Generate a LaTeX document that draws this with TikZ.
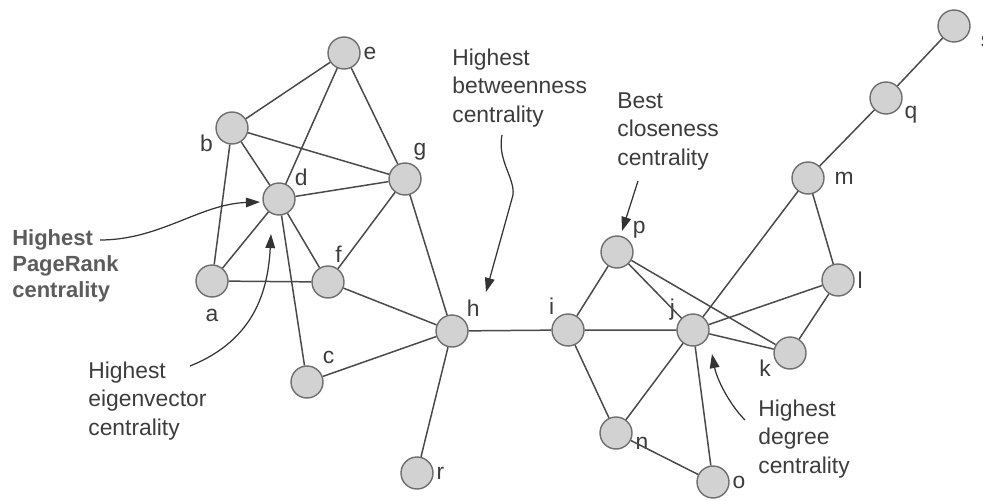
\documentclass[tikz,border=0pt]{standalone}
\usepackage{fontspec}
\setmainfont{Liberation Sans}
\usetikzlibrary{arrows.meta}
\definecolor{vfill}{HTML}{D2D2D2}
\definecolor{vline}{HTML}{6E6E6E}
\definecolor{eline}{HTML}{4A4A4A}
\definecolor{txtgray}{HTML}{3C3C3C}
\definecolor{prgray}{HTML}{5C5C5C}

\begin{document}
\begin{tikzpicture}[x=0.02cm, y=-0.02cm,
    vertex/.style={circle, draw=vline, fill=vfill, line width=0.8pt, minimum size=0.64cm, inner sep=0pt},
    every label/.style={text=txtgray, font=\fontsize{13}{15}\selectfont, inner sep=1.5pt},
    edge/.style={draw=eline, line width=0.85pt},
    note/.style={text=txtgray, align=left, inner sep=0pt, font=\fontsize{13}{16.2}\selectfont},
    pointer/.style={draw=black!80, line width=0.7pt, -{Triangle[length=8pt,width=5.5pt]}}]
        \useasboundingbox (0,0) rectangle (983,500);

        %%NODES
        % left cluster
        \node[vertex, label=0:e] (e) at (344,53) {};
        \node[vertex, label=195:b] (b) at (232,128) {};
        \node[vertex, label=40:d] (d) at (279,199) {};
        \node[vertex, label=70:g] (g) at (405,179) {};
        \node[vertex, label={[label distance=5pt]270:a}] (a) at (212,281) {};
        \node[vertex, label=75:f] (f) at (328,282) {};
        \node[vertex, label={[label distance=2pt]50:c}] (c) at (307,382) {};
        \node[vertex, label=45:h] (h) at (452,331) {};
        \node[vertex, label=0:r] (r) at (417,473) {};

        % right cluster
        \node[vertex, label=130:i] (i) at (568,330) {};
        \node[vertex, label=155:j] (j) at (693,330) {};
        \node[vertex, label=40:p] (p) at (617,252) {};
        \node[vertex, label=-5:n] (n) at (616,433) {};
        \node[vertex, label=0:o] (o) at (713,482) {};
        \node[vertex, label=192:k] (k) at (790,353) {};
        \node[vertex, label=0:l] (l) at (838,280) {};
        \node[vertex, label={[label distance=4pt]0:m}] (m) at (808,178) {};
        \node[vertex, label=-20:q] (q) at (886,98) {};
        \node[vertex, label={[label distance=4.5pt]-15:s}] (s) at (954,26) {};

        %%EDGES
        \path[edge] (e) -- (b) (e) -- (d) (e) -- (g);
        \path[edge] (b) -- (d) (b) -- (g) (b) -- (a);
        \path[edge] (d) -- (g) (d) -- (a) (d) -- (f) (d) -- (c);
        \path[edge] (g) -- (f) (g) -- (h);
        \path[edge] (a) -- (f) (f) -- (h) (c) -- (h) (h) -- (r);
        % bridge
        \path[edge] (h) -- (i);
        \path[edge] (i) -- (p) (i) -- (j) (i) -- (n);
        \path[edge] (p) -- (j) (p) -- (k);
        \path[edge] (j) -- (m) (j) -- (l) (j) -- (k) (j) -- (n) (j) -- (o);
        \path[edge] (n) -- (o) (m) -- (l) (l) -- (k);
        \path[edge] (m) -- (q) (q) -- (s);

        %%LABELS (anchored on the last line)
        \node[note, anchor=base west, text=prgray, font=\bfseries\fontsize{12.5}{14.7}\selectfont] (prtext) at (12,297) {Highest\\PageRank\\centrality};
        \node[note, anchor=base west] (eigtext) at (88,435) {Highest\\eigenvector\\centrality};
        \node[note, anchor=base west] (btwtext) at (452,122) {Highest\\betweenness\\centrality};
        \node[note, anchor=base west] (clotext) at (617,165) {Best\\closeness\\centrality};
        \node[note, anchor=base west] (degtext) at (758,473) {Highest\\degree\\centrality};

        %%POINTERS
        \coordinate (pr1) at (100,240);
        \coordinate (pr2) at (260,202);
        \coordinate (eig1) at (190,366);
        \coordinate (eig2) at (271,234);
        \coordinate (btw1) at (502,135);
        \coordinate (btw2) at (486,292);
        \coordinate (clo1) at (638,181);
        \coordinate (clo2) at (622,231);
        \coordinate (deg1) at (745,420);
        \coordinate (deg2) at (712,354);

        % PageRank
        \path[pointer] (pr1) .. controls (160,240) and (200,204) .. (pr2);
        % eigenvector
        \path[pointer] (eig1) .. controls (255,340) and (268,290) .. (eig2);
        % betweenness
        \path[pointer] (btw1) .. controls (497,160) and (515,178) .. (513,195) -- (btw2);
        % closeness
        \path[pointer] (clo1) -- (clo2);
        % degree
        \path[pointer] (deg1) .. controls (730,405) and (717,380) .. (deg2);
\end{tikzpicture}
\end{document}
